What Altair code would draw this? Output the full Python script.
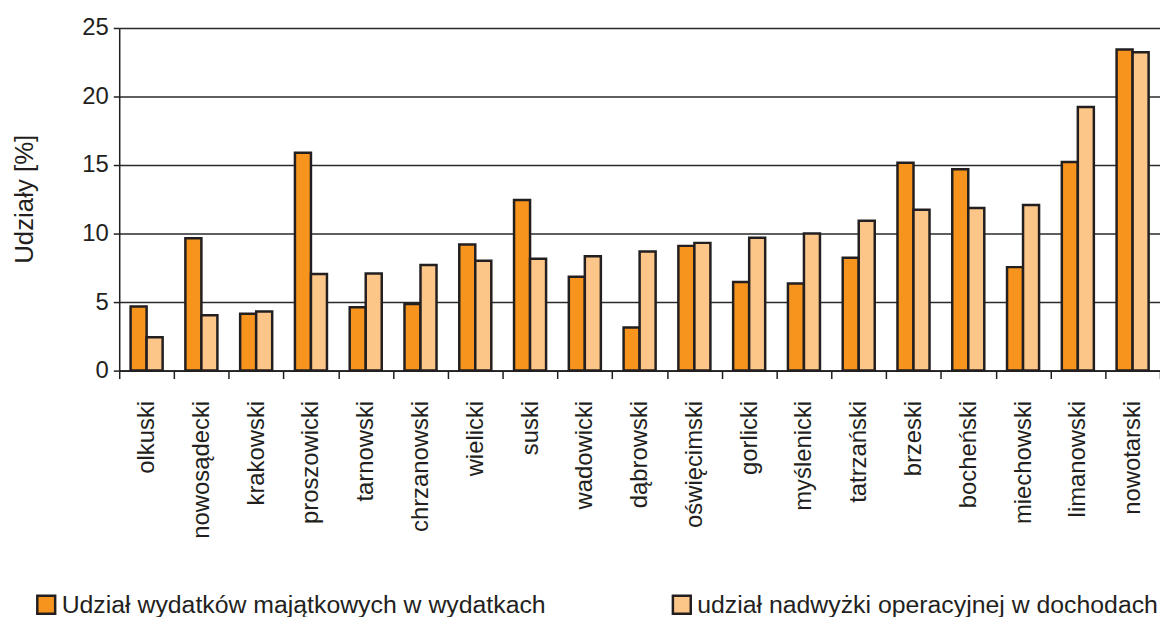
import altair as alt
import pandas as pd

categories = ["olkuski", "nowosądecki", "krakowski", "proszowicki", "tarnowski",
              "chrzanowski", "wielicki", "suski", "wadowicki", "dąbrowski",
              "oświęcimski", "gorlicki", "myślenicki", "tatrzański", "brzeski",
              "bocheński", "miechowski", "limanowski", "nowotarski"]
wydatki = [4.67, 9.66, 4.14, 15.9, 4.62, 4.86, 9.2, 12.44, 6.85, 3.15,
           9.1, 6.46, 6.36, 8.23, 15.17, 14.69, 7.55, 15.22, 23.43]
nadwyzka = [2.44, 4.04, 4.31, 7.04, 7.09, 7.70, 8.01, 8.16, 8.35, 8.69,
            9.32, 9.70, 10.0, 10.94, 11.74, 11.86, 12.08, 19.24, 23.23]
series = ["Udział wydatków majątkowych w wydatkach",
          "udział nadwyżki operacyjnej w dochodach"]
colors = ["#F7941D", "#FDC689"]

rows = []
for c, a, b in zip(categories, wydatki, nadwyzka):
    rows.append({"powiat": c, "seria": series[0], "wartosc": a})
    rows.append({"powiat": c, "seria": series[1], "wartosc": b})
df = pd.DataFrame(rows)

FONT = "Liberation Sans"
DARK = "#231F20"

chart = alt.Chart(df).mark_bar(stroke=DARK, strokeWidth=2.5).encode(
    x=alt.X("powiat:N", sort=categories,
            scale=alt.Scale(paddingInner=0, paddingOuter=0),
            axis=alt.Axis(title=None, labelAngle=-90, tickBand="extent",
                          labelFontSize=24, labelFont=FONT, labelColor=DARK,
                          labelPadding=22, tickSize=8, tickColor=DARK,
                          tickWidth=1.5, domainColor=DARK, domainWidth=1.5,
                          grid=False)),
    xOffset=alt.XOffset("seria:N", sort=series,
                        scale=alt.Scale(paddingInner=0, paddingOuter=0.71)),
    y=alt.Y("wartosc:Q", scale=alt.Scale(domain=[0, 25]),
            axis=alt.Axis(title="Udziały [%]", values=[0, 5, 10, 15, 20, 25],
                          labelFontSize=24, labelFont=FONT, labelColor=DARK,
                          labelPadding=5, tickSize=6, tickColor=DARK,
                          tickWidth=1.5, domainColor=DARK, domainWidth=1.5,
                          grid=True, gridColor="#2a2a2a", gridWidth=1.6,
                          titleFont=FONT, titleFontSize=26,
                          titleFontWeight="normal", titleColor=DARK,
                          titleAngle=-90, titleBaseline="bottom",
                          titleAlign="center", titleX=-82, titleY=172)),
    color=alt.Color("seria:N", sort=series,
                    scale=alt.Scale(domain=series, range=colors),
                    legend=alt.Legend(title=None, orient="none",
                                      direction="horizontal", columns=2,
                                      legendX=-86, legendY=568,
                                      columnPadding=122,
                                      symbolType="square", symbolSize=324,
                                      symbolStrokeColor=DARK,
                                      symbolStrokeWidth=2.5, symbolOpacity=1,
                                      labelFont=FONT, labelFontSize=25,
                                      labelColor=DARK, labelLimit=1000,
                                      labelOffset=3)),
).properties(
    width=1048,
    height=345,
    autosize=alt.AutoSizeParams(type="none"),
    padding={"left": 112, "top": 18, "right": 0, "bottom": 246},
).configure_view(strokeWidth=0)

chart.save("out.html", embed_options={"renderer": "svg", "actions": False})
